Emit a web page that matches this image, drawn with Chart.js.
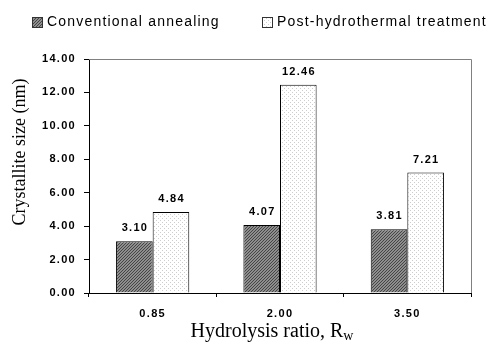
<!DOCTYPE html>
<html><head><meta charset="utf-8">
<script src="https://cdn.jsdelivr.net/npm/chart.js@4/dist/chart.umd.min.js"></script>
<style>html,body{margin:0;padding:0;background:#fff}#wrap{width:494px;height:347px;position:relative}</style>
</head><body><div id="wrap"><canvas id="c" width="494" height="347"></canvas></div>
<script>
const categories = ['0.85', '2.00', '3.50'];
const seriesNames = ['Conventional annealing', 'Post-hydrothermal treatment'];
const conventional = [3.10, 4.07, 3.81];
const postHydro = [4.84, 12.46, 7.21];
const yTicks = [0, 2, 4, 6, 8, 10, 12, 14];
const yTitle = 'Crystallite size (nm)';
const xTitleMain = 'Hydrolysis ratio, R';
const xTitleSub = 'w';

function makePattern(n, bg, fg, pts) {
  const c = document.createElement('canvas');
  c.width = n; c.height = n;
  const g = c.getContext('2d');
  g.fillStyle = bg; g.fillRect(0, 0, n, n);
  g.fillStyle = fg;
  pts.forEach(p => g.fillRect(p[0], p[1], 1, 1));
  return document.getElementById('c').getContext('2d').createPattern(c, 'repeat');
}
const darkPat = makePattern(3, '#8e8e8e', '#454545', [[2,0],[1,1],[0,2]]);
const lightPat = makePattern(4, '#ffffff', '#cdcdcd', [[0,0],[2,2]]);

const SP = '1.3px';
const deco = {
  id: 'deco',
  beforeDraw(chart) { chart.ctx.letterSpacing = SP; },
  afterDatasetsDraw(chart) {
    const ctx = chart.ctx;
    ctx.save();
    ctx.letterSpacing = SP;
    ctx.font = 'bold 11px "Liberation Sans", Arial, sans-serif';
    ctx.fillStyle = '#000';
    ctx.textAlign = 'center';
    ctx.textBaseline = 'middle';
    chart.data.datasets.forEach((ds, i) => {
      chart.getDatasetMeta(i).data.forEach((bar, j) => {
        ctx.fillText(ds.data[j].toFixed(2), bar.x + 0.6, bar.y - 13);
      });
    });
    ctx.restore();
  },
  afterDraw(chart) {
    const ctx = chart.ctx, a = chart.chartArea;
    ctx.save();
    // frame top & right
    ctx.strokeStyle = '#808080'; ctx.lineWidth = 1;
    ctx.beginPath();
    ctx.moveTo(a.left, Math.round(a.top) + 0.5);
    ctx.lineTo(Math.round(a.right) + 0.5, Math.round(a.top) + 0.5);
    ctx.lineTo(Math.round(a.right) + 0.5, a.bottom);
    ctx.stroke();
    // legend
    const items = [[32, darkPat], [262, lightPat]];
    ctx.letterSpacing = '1.2px';
    ctx.font = '14px "Liberation Sans", Arial, sans-serif';
    ctx.textBaseline = 'middle';
    ctx.textAlign = 'left';
    items.forEach((it, i) => {
      ctx.fillStyle = it[1];
      ctx.fillRect(it[0], 17, 10, 10);
      ctx.strokeStyle = '#333';
      ctx.strokeRect(it[0] + 0.5, 17.5, 10, 10);
      ctx.fillStyle = '#000';
      ctx.fillText(seriesNames[i], it[0] + 15, 22);
    });
    // axis titles
    ctx.letterSpacing = '0px';
    ctx.fillStyle = '#000';
    ctx.font = '18px "Liberation Serif", "Times New Roman", serif';
    ctx.save();
    ctx.translate(20, 152);
    ctx.rotate(-Math.PI / 2);
    ctx.textAlign = 'center';
    ctx.fillText(yTitle, 0, 0);
    ctx.restore();
    ctx.textBaseline = 'alphabetic';
    ctx.font = '20px "Liberation Serif", "Times New Roman", serif';
    const w1 = ctx.measureText(xTitleMain).width;
    ctx.font = '14px "Liberation Serif", "Times New Roman", serif';
    const w2 = ctx.measureText(xTitleSub).width;
    const x0 = 272 - (w1 + w2) / 2;
    ctx.font = '20px "Liberation Serif", "Times New Roman", serif';
    ctx.fillText(xTitleMain, x0, 337);
    ctx.font = '14px "Liberation Serif", "Times New Roman", serif';
    ctx.fillText(xTitleSub, x0 + w1, 340);
    ctx.restore();
  }
};

const tickFont = { family: '"Liberation Sans", Arial, sans-serif', size: 11, weight: 'bold' };
new Chart(document.getElementById('c'), {
  type: 'bar',
  data: {
    labels: categories,
    datasets: [
      { label: seriesNames[0], data: conventional, backgroundColor: darkPat, borderColor: '#000', borderWidth: 1 },
      { label: seriesNames[1], data: postHydro, backgroundColor: lightPat, borderColor: '#000', borderWidth: 1 }
    ]
  },
  options: {
    responsive: false,
    devicePixelRatio: 1,
    animation: false,
    events: [],
    categoryPercentage: 0.575,
    barPercentage: 1,
    layout: { padding: { top: 59, right: 23, left: 0, bottom: 0 } },
    plugins: { legend: { display: false }, tooltip: { enabled: false } },
    scales: {
      x: {
        grid: { drawOnChartArea: false, offset: true, color: '#000', tickLength: 4 },
        border: { color: '#000' },
        ticks: { font: tickFont, color: '#000', padding: 10 },
        afterFit(s) { s.height = 54; }
      },
      y: {
        min: 0, max: 14,
        afterBuildTicks(s) { s.ticks = yTicks.map(v => ({ value: v })); },
        grid: { drawOnChartArea: false, color: '#000', tickLength: 5 },
        border: { color: '#000' },
        ticks: { font: tickFont, color: '#000', padding: 8, callback: v => Number(v).toFixed(2) },
        afterFit(s) { s.width = 89; }
      }
    }
  },
  plugins: [deco]
});
</script>
</body></html>
